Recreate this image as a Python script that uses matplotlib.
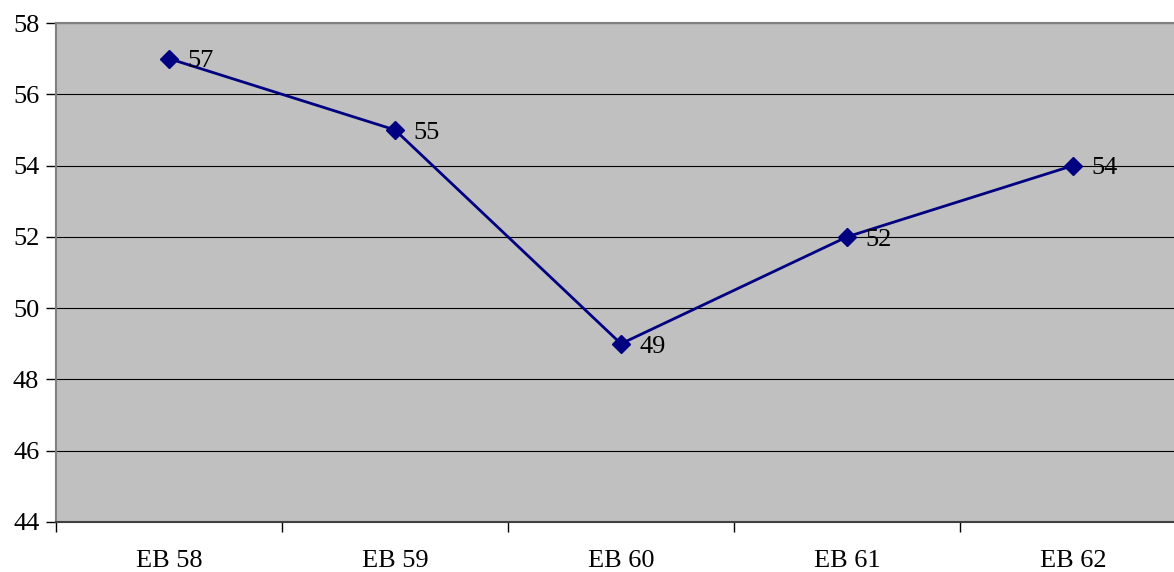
import matplotlib
matplotlib.use("Agg")
import matplotlib.pyplot as plt

# survey waves and values
waves = ["EB 58", "EB 59", "EB 60", "EB 61", "EB 62"]
values = [57, 55, 49, 52, 54]
y_ticks = [44, 46, 48, 50, 52, 54, 56, 58]

plt.rcParams['font.family'] = ['Liberation Serif', 'DejaVu Serif']
fs = 19

fig = plt.figure(figsize=(11.74, 5.72), dpi=100)
ax = fig.add_axes([56 / 1174, 50 / 572, 1130 / 1174, 499 / 572])
ax.set_facecolor('#C0C0C0')

x = list(range(len(waves)))
ax.plot(x, values, color='#000080', linewidth=2.0, marker='D', markersize=9,
        markerfacecolor='#000080', markeredgecolor='#000080', zorder=3)
for xi, v in zip(x, values):
    ax.annotate(str(v), (xi, v), xytext=(13, -2), textcoords='offset points',
                ha='left', va='center', fontsize=fs, color='black', zorder=4)

ax.set_xlim(-0.5, len(waves) - 0.5)
ax.set_ylim(44, 58)
ax.set_yticks(y_ticks)
ax.set_yticklabels([str(t) for t in y_ticks], fontsize=fs)
ax.yaxis.grid(True, color='black', linewidth=0.8)
ax.set_axisbelow(True)

# category boundaries carry the ticks, labels sit at the centres
ax.set_xticks([i - 0.5 for i in range(len(waves) + 1)])
ax.set_xticklabels([])
ax.set_xticks(x, minor=True)
ax.set_xticklabels(waves, minor=True, fontsize=fs)
ax.tick_params(axis='x', which='minor', length=0, pad=20)
ax.tick_params(axis='x', which='major', length=7, width=1, direction='out')
ax.tick_params(axis='y', length=7, width=1, direction='out', pad=5)

for side in ['top', 'left', 'right']:
    ax.spines[side].set_color('#808080')
    ax.spines[side].set_linewidth(1.5)
ax.spines['bottom'].set_color('#404040')
ax.spines['bottom'].set_linewidth(1.5)

fig.savefig("out.png", dpi=100)
